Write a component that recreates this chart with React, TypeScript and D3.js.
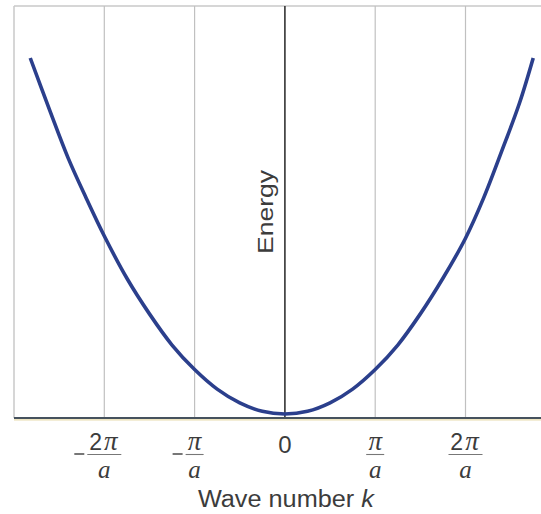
import React from "react";
import * as d3 from "d3";

const W = 541;
const H = 514;

// Dispersion curve samples: wave number k (units of π/a) and energy (arbitrary units)
const waveNumbers = [
  -2.82, -2.6, -2.4, -2.2, -2, -1.75, -1.5, -1.25, -1, -0.75, -0.5, -0.25, 0,
  0.25, 0.5, 0.75, 1, 1.25, 1.5, 1.75, 2, 2.2, 2.4, 2.6, 2.75,
];
const energies = [
  8.0, 6.8, 5.75, 4.85, 4.0, 3.05, 2.25, 1.55, 1.0, 0.56, 0.25, 0.06, 0,
  0.06, 0.25, 0.56, 1.0, 1.55, 2.25, 3.05, 3.95, 4.85, 5.9, 7.0, 8.0,
];

// Grid / tick positions in units of π/a
const tickValues = [-2, -1, 0, 1, 2];
const tickNumerators = ["2π", "π", "0", "π", "2π"];
const tickNegative = [true, true, false, false, false];
const tickIsFraction = [true, true, false, true, true];

const xLabel = "Wave number ";
const xLabelVar = "k";
const yLabel = "Energy";

const SANS = "'Liberation Sans', Arial, sans-serif";
const SERIF = "'Liberation Serif', 'Times New Roman', serif";

export default function App() {
  const x = d3.scaleLinear().domain([-3, 3]).range([14, 14 + 6 * 90.3]);
  const y = d3.scaleLinear().domain([0, 8]).range([414, 58]);
  const top = 6;
  const axisY = 418;

  const pts: [number, number][] = waveNumbers.map((k, i) => [k, energies[i]]);
  const line = d3
    .line<[number, number]>()
    .x((d) => x(d[0]))
    .y((d) => y(d[1]))
    .curve(d3.curveCatmullRom.alpha(0.5));

  const ink = "#3c3c3c";

  return (
    <svg
      width={W}
      height={H}
      style={{ position: "absolute", left: 0, top: 0, background: "#fff" }}
    >
      {/* frame */}
      <line x1={14} x2={W} y1={top} y2={top} stroke="#c8c8c8" strokeWidth={1.5} />
      <line x1={14} x2={14} y1={top} y2={axisY} stroke="#c8c8c8" strokeWidth={1.5} />

      {/* vertical grid lines */}
      {tickValues.map((t) =>
        t === 0 ? null : (
          <line
            key={t}
            x1={x(t)}
            x2={x(t)}
            y1={top}
            y2={axisY}
            stroke="#c0c0c0"
            strokeWidth={1.2}
          />
        )
      )}

      {/* energy axis */}
      <line x1={x(0)} x2={x(0)} y1={top} y2={axisY} stroke="#333" strokeWidth={1.6} />

      {/* dispersion curve */}
      <path d={line(pts) || ""} fill="none" stroke="#2b3f8c" strokeWidth={3.6} />

      {/* wave-number axis */}
      <line x1={14} x2={W} y1={axisY + 1.8} y2={axisY + 1.8} stroke="#e8dcae" strokeWidth={1.2} />
      <line x1={14} x2={W} y1={axisY} y2={axisY} stroke="#46525e" strokeWidth={2} />

      {/* tick labels */}
      {tickValues.map((t, i) => {
        const cx = x(t);
        if (!tickIsFraction[i]) {
          return (
            <text
              key={t}
              x={cx}
              y={453}
              textAnchor="middle"
              fontFamily={SANS}
              fontSize={24}
              fill={ink}
            >
              {tickNumerators[i]}
            </text>
          );
        }
        const num = tickNumerators[i];
        const hasTwo = num.startsWith("2");
        const barHalf = hasTwo ? 17 : 9;
        return (
          <g key={t}>
            {tickNegative[i] && (
              <line
                x1={cx - barHalf - 13}
                x2={cx - barHalf - 3}
                y1={454}
                y2={454}
                stroke="#555"
                strokeWidth={1.6}
              />
            )}
            <line
              x1={cx - barHalf}
              x2={cx + barHalf}
              y1={454.5}
              y2={454.5}
              stroke="#777"
              strokeWidth={1.1}
            />
            {/* numerator */}
            <text x={cx} y={450} textAnchor="middle" fill={ink}>
              {hasTwo && (
                <tspan fontFamily={SANS} fontSize={23} dx={-1}>
                  2
                </tspan>
              )}
              <tspan fontFamily={SERIF} fontStyle="italic" fontSize={27} dx={hasTwo ? 2 : 0}>
                π
              </tspan>
            </text>
            {/* denominator */}
            <text
              x={cx}
              y={478}
              textAnchor="middle"
              fontFamily={SERIF}
              fontStyle="italic"
              fontSize={25}
              fill={ink}
            >
              a
            </text>
          </g>
        );
      })}

      {/* axis titles */}
      <text
        x={x(0) + 1}
        y={507}
        textAnchor="middle"
        fontFamily={SANS}
        fontSize={23}
        textLength={176}
        lengthAdjust="spacingAndGlyphs"
        fill={ink}
      >
        {xLabel}
        <tspan fontStyle="italic">{xLabelVar}</tspan>
      </text>
      <text
        transform={`translate(${x(0) - 12}, 212) rotate(-90)`}
        textAnchor="middle"
        fontFamily={SANS}
        fontSize={22}
        textLength={84}
        lengthAdjust="spacingAndGlyphs"
        fill={ink}
      >
        {yLabel}
      </text>
    </svg>
  );
}
